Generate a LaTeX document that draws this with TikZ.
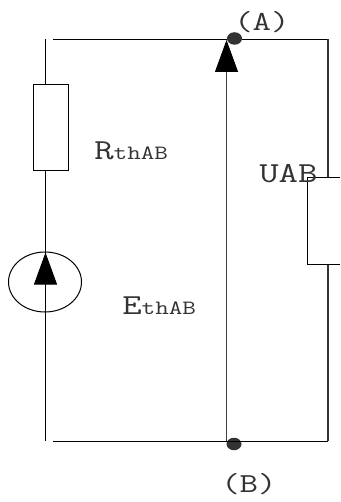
\documentclass[tikz,border=0pt]{standalone}
\usepackage{tikz}
\usetikzlibrary{arrows.meta, shapes.geometric}
\newcommand{\bigtxt}{\fontsize{29}{29}\selectfont\ttfamily}
\newcommand{\midtxt}{\fontsize{27.5}{27.5}\selectfont\ttfamily}
\newcommand{\smalltxt}{\fontsize{20.3}{20.3}\selectfont\ttfamily}
\tikzset{
	wire/.style = {line width=1pt, black},
	thick wire/.style = {line width=1.3pt, black!80},
	bigarrow/.style = {line width=1pt, black!75, -{Triangle[length=32pt,width=23pt,black]}},
	junction/.style = {ellipse, fill=black!80, inner sep=0pt, minimum width=15pt, minimum height=12.5pt},
	label/.style = {anchor=base west, inner sep=0pt, text=black!80, xscale=1.3, transform shape}
}
\begin{document}
\begin{tikzpicture}[x=1pt,y=-1pt]
	\useasboundingbox (0,0) rectangle (340,502);
	
	\node[draw, line width=1pt, inner sep=0pt, minimum width=35pt, minimum height=86pt] (Rth) at (50.5,128) {};
	\node[draw, ellipse, line width=1pt, inner sep=0pt, minimum width=73pt, minimum height=60pt] (Eth) at (45,282) {};
	\node[junction] (A) at (234.5,38.5) {};
	\node[junction] (B) at (234,444) {};
	
	\coordinate (TL) at (45.5,39.5);
	\coordinate (RT) at (45.5,85);
	\coordinate (RB) at (45.5,171);
	\coordinate (EB) at (45.5,441);
	\coordinate (ET) at (45.5,252.5);
	\coordinate (Top) at (53,39.5);
	\coordinate (TR) at (328,39.5);
	\coordinate (UT) at (328,178);
	\coordinate (UB) at (328,264.5);
	\coordinate (BR) at (328,441);
	\coordinate (Bot) at (53,441);
	\coordinate (MT) at (226.5,40);
	\coordinate (MB) at (226.5,441);
	\coordinate (U1) at (340,178);
	\coordinate (U2) at (307.5,178);
	\coordinate (U3) at (307.5,264.5);
	\coordinate (U4) at (340,264.5);
	
	%%%%%%%%%%%%%%%%%%%%%%%%%%%%%%
	
	\draw[wire] (TL) -- (RT);
	\draw[wire] (RB) -- (EB);
	\draw[wire] (Top) -- (A.west |- Top);
	\draw[wire] (A.east |- TR) -- (TR);
	\draw[wire] (Bot) -- (BR);
	\draw[thick wire] (TR) -- (UT);
	\draw[thick wire] (UB) -- (BR);
	\draw[wire] (U1) -- (U2) -- (U3) -- (U4);
	\draw[bigarrow] (MB) -- (MT);
	\draw[bigarrow, black] (EB) -- (ET);
	
	%%%%%%%%%%%%%%%%%%%%%%%%%%%%%%
	
	\node[label] (la) at (234,31) {\midtxt (A)};
	\node[label] (lb) at (221,492) {\midtxt (B)};
	\node[label] (lu) at (259,183) {\bigtxt UAB};
	\node[label] (lr) at (94,160) {\bigtxt R\smalltxt thAB};
	\node[label] (le) at (122,314) {\bigtxt E\smalltxt thAB};
\end{tikzpicture}
\end{document}
